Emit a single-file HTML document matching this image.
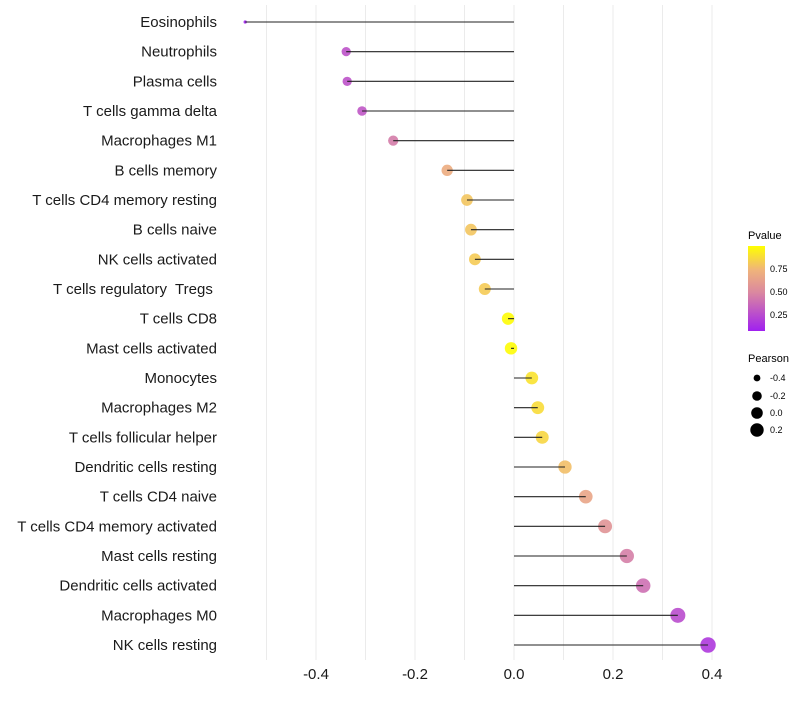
<!DOCTYPE html>
<html><head><meta charset="utf-8"><style>
body{margin:0;background:#fff;font-family:"Liberation Sans",sans-serif}
svg text{font-family:"Liberation Sans",sans-serif;white-space:pre}
</style></head><body>
<svg id="chart" width="800" height="700" xmlns="http://www.w3.org/2000/svg">
<g id="grid"></g>
<g id="marks"></g>
<g id="ylabels"></g>
<g id="xlabels"></g>
<g>
<defs><linearGradient id="pg" x1="0" y1="1" x2="0" y2="0">
<stop offset="0" stop-color="#a020f0"/><stop offset="0.45" stop-color="#da87a0"/><stop offset="0.72" stop-color="#f0b47a"/><stop offset="1" stop-color="#ffff00"/></linearGradient></defs>
<text x="748" y="239" font-size="11">Pvalue</text>
<rect x="748" y="246" width="17" height="85" fill="url(#pg)"/>
<text x="770" y="272" font-size="9">0.75</text>
<text x="770" y="295" font-size="9">0.50</text>
<text x="770" y="318" font-size="9">0.25</text>
<text x="748" y="362" font-size="11">Pearson</text>
<circle cx="757" cy="378" r="3.4"/>
<circle cx="757" cy="396" r="4.8"/>
<circle cx="757" cy="413" r="5.8"/>
<circle cx="757" cy="430" r="6.7"/>
<text x="770" y="381" font-size="9">-0.4</text>
<text x="770" y="399" font-size="9">-0.2</text>
<text x="770" y="416" font-size="9">0.0</text>
<text x="770" y="433" font-size="9">0.2</text>
</g>
</svg>
<script>
const categories=["Eosinophils","Neutrophils","Plasma cells","T cells gamma delta","Macrophages M1","B cells memory","T cells CD4 memory resting","B cells naive","NK cells activated","T cells regulatory  Tregs ","T cells CD8","Mast cells activated","Monocytes","Macrophages M2","T cells follicular helper","Dendritic cells resting","T cells CD4 naive","T cells CD4 memory activated","Mast cells resting","Dendritic cells activated","Macrophages M0","NK cells resting"];
const pearson=[-0.543,-0.339,-0.337,-0.307,-0.244,-0.135,-0.095,-0.087,-0.079,-0.059,-0.012,-0.006,0.036,0.048,0.057,0.103,0.145,0.184,0.228,0.261,0.331,0.392];
const pvalue=[0.08,0.28,0.28,0.3,0.45,0.7,0.8,0.8,0.82,0.82,0.99,0.99,0.9,0.88,0.86,0.78,0.66,0.56,0.46,0.4,0.26,0.18];
const xTicks=[-0.4,-0.2,0.0,0.2,0.4];
const xTickLabels=["-0.4","-0.2","0.0","0.2","0.4"];
const gridVals=[-0.5,-0.4,-0.3,-0.2,-0.1,0,0.1,0.2,0.3,0.4];
const NS="http://www.w3.org/2000/svg";
const x=v=>514+v*495;
const y=i=>22+i*(623/21);
const pmin=0.08,pmax=1.0;
const stops=[[0,[160,32,240]],[0.45,[218,135,160]],[0.72,[240,180,122]],[1,[255,255,0]]];
function col(p){
  let t=Math.max(0,Math.min(1,(p-pmin)/(pmax-pmin)));
  let k=0; while(k<stops.length-2 && t>stops[k+1][0]) k++;
  const [t0,a]=stops[k],[t1,b]=stops[k+1];
  const s=(t-t0)/(t1-t0);
  const c=a.map((v,j)=>v+(b[j]-v)*s);
  return `rgb(${c.map(Math.round).join(",")})`;
}
const r=v=>Math.sqrt(Math.max(2.5,39+52*v-(v<-0.45?8:0)));
function mk(tag,attrs,parent){const e=document.createElementNS(NS,tag);for(const k in attrs)e.setAttribute(k,attrs[k]);parent.appendChild(e);return e;}
const grid=document.getElementById('grid');
gridVals.forEach(v=>{
  const l=mk('line',{x1:x(v),x2:x(v),y1:5,y2:660,stroke:'#ebebeb','stroke-width':1},grid);
  
  
});
const marks=document.getElementById('marks');
const yl=document.getElementById('ylabels');
categories.forEach((c,i)=>{
  const pt=mk('circle',{cx:x(pearson[i]),cy:y(i),r:r(pearson[i]),fill:col(pvalue[i]),'fill-opacity':0.9},marks);
  
  
  const sg=mk('line',{x1:x(0),x2:x(pearson[i]),y1:y(i),y2:y(i),stroke:'#222','stroke-width':1.1},marks);
  
  
  const t=mk('text',{x:217,y:y(i)+5,'font-size':15,'text-anchor':'end',fill:'#1a1a1a'},yl);
  t.textContent=c;
  
  
});
const xl=document.getElementById('xlabels');
xTicks.forEach((v,i)=>{
  const t=mk('text',{x:x(v),y:679,'font-size':15,'text-anchor':'middle',fill:'#1a1a1a'},xl);
  t.textContent=xTickLabels[i];
  
  
});
</script>
</body></html>
